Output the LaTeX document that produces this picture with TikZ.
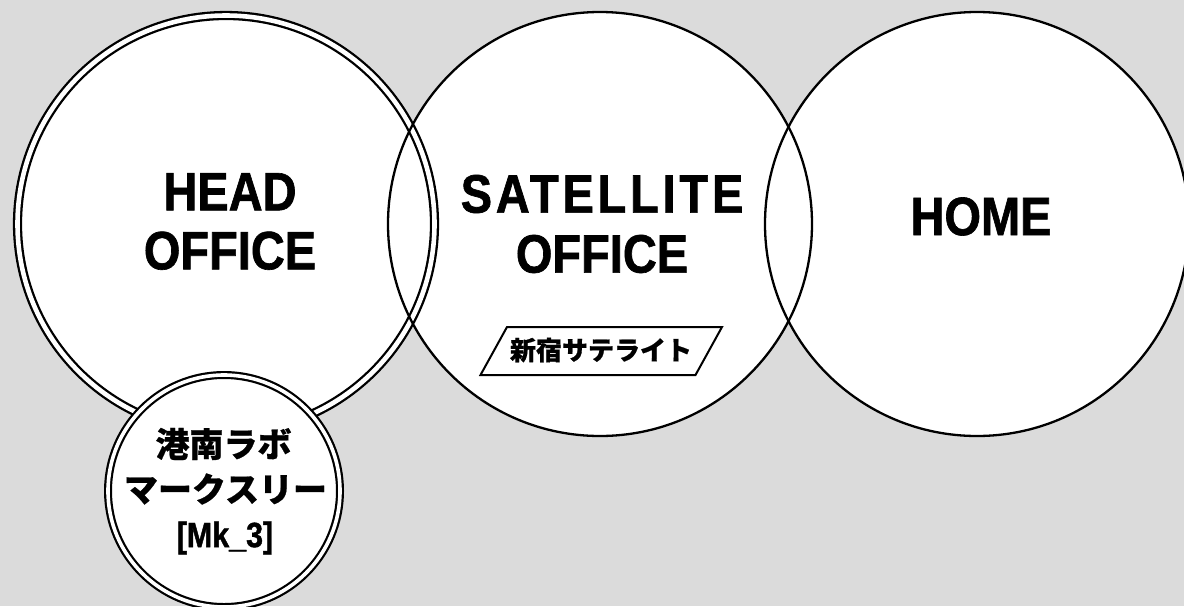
\documentclass[tikz,border=0pt]{standalone}
\usepackage{fontspec}
\newfontfamily\condfont{Liberation Sans}[FakeStretch=0.87,FakeBold=1.2]
\newfontfamily\jpfont{Noto Sans CJK JP}[FakeBold=0.6]
\definecolor{bggray}{RGB}{219,219,219}
\begin{document}
\begin{tikzpicture}[x=1pt,y=-1pt,
  bigcircle/.style={draw=black, line width=2.3pt},
  ringline/.style={draw=black, line width=2.3pt, double=white, double distance=4.6pt},
  smallring/.style={draw=black, fill=white, line width=2.2pt, double=white, double distance=3.6pt},
  label/.style={inner sep=0pt, align=center, font=\condfont\bfseries\fontsize{54}{59}\selectfont},
  jplabel/.style={inner sep=0pt, font=\jpfont\bfseries\fontsize{26}{30}\selectfont},
  smalljp/.style={inner sep=0pt, font=\jpfont\bfseries\fontsize{34}{40}\selectfont},
  tagbox/.style={draw=black, fill=white, line width=2pt, line join=miter}]
\fill[bggray] (0,0) rectangle (1184,606);
\useasboundingbox (0,0) rectangle (1184,606);
% fills
\fill[white] (226,224) circle[radius=212];
\fill[white] (600,224) circle[radius=212];
\fill[white] (977,224) circle[radius=212];
% outlines
\path[ringline] (226,224) circle[radius=208.5];
\path[bigcircle] (600,224) circle[radius=212];
\path[bigcircle] (977,224) circle[radius=212];
% labels
\node[label] (head) at (230,221.5) {HEAD\\OFFICE};
\node[label, font=\condfont\bfseries\fontsize{54}{60}\selectfont] (sat) at (602,224) {{\addfontfeature{LetterSpace=7}SATELLITE}\\OFFICE};
\node[label] (home) at (981,216.5) {HOME};
% shinjuku tag
\coordinate (t1) at (507,327);
\coordinate (t2) at (722,327);
\coordinate (t3) at (695.5,375);
\coordinate (t4) at (480.5,375);
\path[tagbox] (t1) -- (t2) -- (t3) -- (t4) -- cycle;
\node[jplabel] (tag) at (601,350) {新宿サテライト};
% small circle
\path[smallring] (224,491) circle[radius=116];
\node[smalljp] (lab1) at (223.5,444) {港南ラボ};
\node[smalljp] (lab2) at (225.5,489) {マークスリー};
\node[inner sep=0pt, font=\condfont\bfseries\fontsize{35}{40}\selectfont] (lab3) at (225,538) {[Mk\_3]};
\end{tikzpicture}
\end{document}
